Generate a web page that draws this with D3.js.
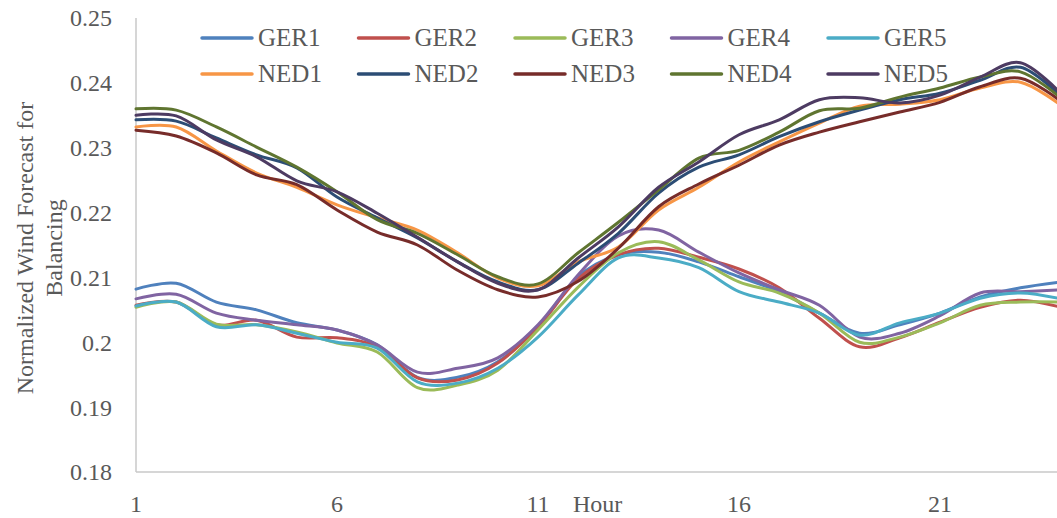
<!DOCTYPE html>
<html>
<head>
<meta charset="utf-8">
<script src="https://cdn.jsdelivr.net/npm/d3@7"></script>
<style>
  html, body { margin: 0; padding: 0; background: #fff; }
  svg { display: block; }
  text { font-family: "Liberation Serif", "DejaVu Serif", "Tinos", "Times New Roman", serif; fill: #595959; }
</style>
</head>
<body>
<svg id="chart" width="1057" height="518"></svg>
<script>
// Hours of the day
const hours = d3.range(1, 25);

// Normalized wind forecast for balancing, per hour
const GER1 = [0.2082,0.2091,0.2062,0.2050,0.2030,0.2019,0.1996,0.1946,0.1946,0.1970,0.2024,0.2101,0.2135,0.2139,0.2124,0.2101,0.2078,0.2045,0.2014,0.2027,0.2045,0.2070,0.2084,0.2093];
const GER2 = [0.2057,0.2062,0.2027,0.2034,0.2008,0.2007,0.1993,0.1945,0.1942,0.1968,0.2024,0.2098,0.2135,0.2145,0.2131,0.2113,0.2084,0.2037,0.1993,0.2007,0.2031,0.2054,0.2065,0.2054];
const GER3 = [0.2054,0.2062,0.2028,0.2027,0.2016,0.1999,0.1985,0.1930,0.1934,0.1957,0.2019,0.2085,0.2138,0.2155,0.2127,0.2093,0.2076,0.2045,0.2000,0.2008,0.2030,0.2057,0.2062,0.2062];
const GER4 = [0.2067,0.2074,0.2045,0.2034,0.2027,0.2019,0.1996,0.1954,0.1960,0.1976,0.2027,0.2104,0.2164,0.2173,0.2139,0.2107,0.2081,0.2057,0.2008,0.2014,0.2041,0.2076,0.2078,0.2081];
const GER5 = [0.2056,0.2062,0.2024,0.2027,0.2014,0.2000,0.1991,0.1939,0.1937,0.1960,0.2008,0.2073,0.2130,0.2130,0.2115,0.2078,0.2062,0.2045,0.2011,0.2030,0.2045,0.2068,0.2076,0.2067];
const NED1 = [0.2332,0.2332,0.2295,0.2261,0.2239,0.2212,0.2192,0.2173,0.2138,0.2099,0.2087,0.2124,0.2147,0.2204,0.2239,0.2278,0.2309,0.2338,0.2364,0.2367,0.2374,0.2392,0.2401,0.2366];
const NED2 = [0.2343,0.2341,0.2315,0.2289,0.2269,0.2224,0.2192,0.2161,0.2124,0.2093,0.2081,0.2122,0.2168,0.2230,0.2270,0.2289,0.2317,0.2340,0.2358,0.2374,0.2384,0.2404,0.2424,0.2380];
const NED3 = [0.2327,0.2318,0.2292,0.2258,0.2243,0.2204,0.2170,0.2150,0.2111,0.2081,0.2070,0.2094,0.2145,0.2209,0.2244,0.2273,0.2304,0.2324,0.2340,0.2355,0.2370,0.2394,0.2407,0.2372];
const NED4 = [0.2360,0.2358,0.2332,0.2301,0.2270,0.2232,0.2189,0.2168,0.2135,0.2101,0.2090,0.2138,0.2185,0.2235,0.2284,0.2296,0.2324,0.2357,0.2361,0.2378,0.2392,0.2409,0.2417,0.2377];
const NED5 = [0.2350,0.2349,0.2312,0.2286,0.2249,0.2232,0.2199,0.2162,0.2124,0.2091,0.2081,0.2130,0.2178,0.2239,0.2278,0.2320,0.2343,0.2374,0.2377,0.2369,0.2381,0.2409,0.2431,0.2384];

const seriesNames = ["GER1","GER2","GER3","GER4","GER5","NED1","NED2","NED3","NED4","NED5"];
const seriesValues = [GER1,GER2,GER3,GER4,GER5,NED1,NED2,NED3,NED4,NED5];
const seriesColors = ["#4F81BD","#C0504D","#9BBB59","#8064A2","#4BACC6","#F79646","#2C4D75","#772C2A","#5F7530","#4D3B62"];

const xTicks = [1, 6, 11, 16, 21];
const yTicks = [0.18, 0.19, 0.20, 0.21, 0.22, 0.23, 0.24, 0.25];
const yTickLabels = ["0.18","0.19","0.2","0.21","0.22","0.23","0.24","0.25"];

const FONT = '"Liberation Serif", "DejaVu Serif", "Tinos", "Times New Roman", serif';

const svg = d3.select("#chart");

const x = d3.scaleLinear().domain([1, 24]).range([136, 136 + 23 * 40.2]);
const y = d3.scaleLinear().domain([0.18, 0.25]).range([472, 18]);

// Axes lines
svg.append("line")
  .attr("x1", x(1)).attr("x2", x(1))
  .attr("y1", y(0.25)).attr("y2", y(0.18))
  .attr("stroke", "#c8c8c8").attr("stroke-width", 1.5);
svg.append("line")
  .attr("x1", x(1)).attr("x2", 1057)
  .attr("y1", y(0.18)).attr("y2", y(0.18))
  .attr("stroke", "#c8c8c8").attr("stroke-width", 1.5);

// Y tick labels
svg.append("g").selectAll("text")
  .data(yTicks)
  .join("text")
  .attr("x", 112)
  .attr("y", d => y(d))
  .attr("dy", "0.35em")
  .attr("text-anchor", "end")
  .attr("font-family", FONT)
  .attr("font-size", 24)
  .text((d, i) => yTickLabels[i]);

// X tick labels
svg.append("g").selectAll("text")
  .data(xTicks)
  .join("text")
  .attr("x", d => x(d))
  .attr("y", 512)
  .attr("text-anchor", "middle")
  .attr("font-family", FONT)
  .attr("font-size", 24)
  .text(d => d);

// X axis title
svg.append("text")
  .attr("x", 573)
  .attr("y", 512)
  .attr("font-family", FONT)
  .attr("font-size", 24)
  .text("Hour");

// Y axis title, two lines
const yTitle = svg.append("text")
  .attr("transform", "translate(0,248) rotate(-90)")
  .attr("text-anchor", "middle")
  .attr("font-family", FONT)
  .attr("font-size", 24);
yTitle.append("tspan").attr("x", 0).attr("y", 33).text("Normalized Wind Forecast for");
yTitle.append("tspan").attr("x", 0).attr("y", 62).text("Balancing");

// Series lines
const line = d3.line()
  .x((d, i) => x(hours[i]))
  .y(d => y(d))
  .curve(d3.curveCardinal.tension(0));

svg.append("g").selectAll("path")
  .data(seriesValues)
  .join("path")
  .attr("d", d => line(d))
  .attr("fill", "none")
  .attr("stroke", (d, i) => seriesColors[i])
  .attr("stroke-width", 3)
  .attr("stroke-linejoin", "round")
  .attr("stroke-linecap", "round");

// Legend: two rows of five
const legend = svg.append("g");
const items = legend.selectAll("g")
  .data(seriesNames)
  .join("g")
  .attr("transform", (d, i) => `translate(${202 + (i % 5) * 156.5},${i < 5 ? 38 : 74})`);
items.append("line")
  .attr("x1", 0).attr("x2", 50)
  .attr("y1", 0).attr("y2", 0)
  .attr("stroke", (d, i) => seriesColors[i])
  .attr("stroke-width", 3.5)
  .attr("stroke-linecap", "round");
items.append("text")
  .attr("x", 56)
  .attr("y", 0)
  .attr("dy", "0.33em")
  .attr("font-family", FONT)
  .attr("font-size", 25)
  .text(d => d);
</script>
</body>
</html>
